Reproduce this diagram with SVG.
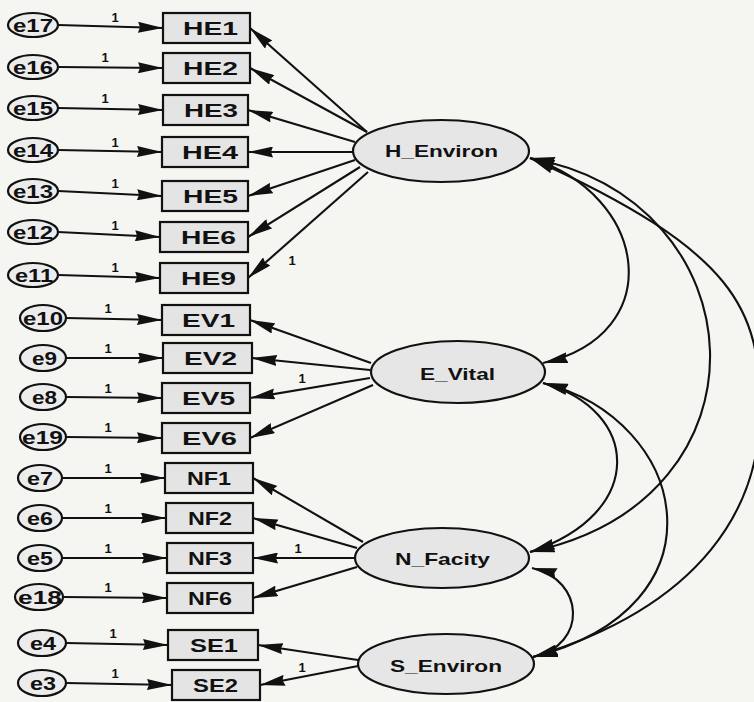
<svg xmlns="http://www.w3.org/2000/svg" width="754" height="702" viewBox="0 0 754 702">
<defs>
<marker id="arr" viewBox="0 0 25 11" refX="25" refY="5.5" markerWidth="25" markerHeight="11" markerUnits="userSpaceOnUse" orient="auto-start-reverse">
<path d="M0,0 L25,5.5 L0,11 L2,5.5 Z" fill="#111"/>
</marker>
<style>
.bg{fill:#f5f5f2}
.obs rect{fill:#e4e4e4;stroke:#111;stroke-width:2.2}
.lat ellipse{fill:#e6e6e6;stroke:#111;stroke-width:2.2}
.err ellipse{fill:#ececec;stroke:#111;stroke-width:2.2}
text{font-family:"Liberation Sans",Arial,sans-serif;font-weight:bold;fill:#111}
.o{font-size:18px}
.e{font-size:19px}
.l{font-size:17px}
.one{font-size:13px;text-anchor:middle}
.c line,.c path{stroke:#111;stroke-width:2.1;fill:none}
.c .a{marker-end:url(#arr)}
.c .d{marker-start:url(#arr);marker-end:url(#arr)}
</style>
</defs>
<rect class="bg" x="0" y="0" width="754" height="702"/>

<g id="connectors" class="c">
<!-- error arrows -->
<line class="a" x1="58" y1="25" x2="163" y2="28"/>
<line class="a" x1="58" y1="67" x2="163" y2="68"/>
<line class="a" x1="58" y1="108" x2="163" y2="110"/>
<line class="a" x1="58" y1="150" x2="162" y2="152"/>
<line class="a" x1="58" y1="191" x2="162" y2="196"/>
<line class="a" x1="58" y1="232" x2="160" y2="237"/>
<line class="a" x1="58" y1="275" x2="160" y2="278"/>
<line class="a" x1="66" y1="318" x2="162" y2="320"/>
<line class="a" x1="66" y1="358" x2="163" y2="358"/>
<line class="a" x1="66" y1="397" x2="162" y2="398"/>
<line class="a" x1="66" y1="437" x2="162" y2="438"/>
<line class="a" x1="62" y1="478" x2="165" y2="478"/>
<line class="a" x1="62" y1="518" x2="166" y2="518"/>
<line class="a" x1="62" y1="558" x2="167" y2="558"/>
<line class="a" x1="63" y1="597" x2="167" y2="598"/>
<line class="a" x1="66" y1="643" x2="168" y2="645"/>
<line class="a" x1="66" y1="683" x2="172" y2="685"/>
<!-- loadings -->
<line class="a" x1="367" y1="132" x2="250" y2="28"/>
<line class="a" x1="367" y1="132" x2="250" y2="68"/>
<line class="a" x1="355" y1="142" x2="248" y2="110"/>
<line class="a" x1="353" y1="152" x2="248" y2="152"/>
<line class="a" x1="355" y1="160" x2="248" y2="196"/>
<line class="a" x1="360" y1="167" x2="248" y2="237"/>
<line class="a" x1="368" y1="172" x2="248" y2="278"/>
<line class="a" x1="371" y1="363" x2="250" y2="320"/>
<line class="a" x1="370" y1="370" x2="252" y2="358"/>
<line class="a" x1="370" y1="378" x2="250" y2="398"/>
<line class="a" x1="373" y1="385" x2="250" y2="438"/>
<line class="a" x1="363" y1="542" x2="253" y2="478"/>
<line class="a" x1="357" y1="548" x2="253" y2="518"/>
<line class="a" x1="355" y1="558" x2="253" y2="558"/>
<line class="a" x1="357" y1="567" x2="253" y2="598"/>
<line class="a" x1="358" y1="660" x2="258" y2="645"/>
<line class="a" x1="358" y1="666" x2="260" y2="685"/>
<!-- covariances -->
<path class="d" d="M530,158 C650,195 668,335 543,363"/>
<path class="d" d="M530,158 C760,200 780,500 530,552"/>
<path class="d" d="M530,158 C738,252 760,310 760,410 C760,505 705,605 533,657"/>
<path class="d" d="M543,383 C640,410 648,513 530,552"/>
<path class="d" d="M543,383 C690,420 730,607 533,657"/>
<path class="d" d="M532,568 C585,580 588,645 533,657"/>
<!-- weight labels -->
<text class="one" x="115" y="22">1</text>
<text class="one" x="105" y="62">1</text>
<text class="one" x="105" y="103">1</text>
<text class="one" x="115" y="147">1</text>
<text class="one" x="115" y="188">1</text>
<text class="one" x="115" y="230">1</text>
<text class="one" x="115" y="272">1</text>
<text class="one" x="108" y="313">1</text>
<text class="one" x="108" y="353">1</text>
<text class="one" x="108" y="393">1</text>
<text class="one" x="108" y="432">1</text>
<text class="one" x="108" y="473">1</text>
<text class="one" x="108" y="513">1</text>
<text class="one" x="108" y="553">1</text>
<text class="one" x="108" y="592">1</text>
<text class="one" x="113" y="638">1</text>
<text class="one" x="115" y="678">1</text>
<text class="one" x="292" y="265">1</text>
<text class="one" x="302" y="383">1</text>
<text class="one" x="298" y="553">1</text>
<text class="one" x="302" y="672">1</text>
</g>

<g id="e17" class="err"><ellipse cx="33" cy="25" rx="25" ry="12"/><text class="e" x="13" y="32" textLength="40" lengthAdjust="spacingAndGlyphs">e17</text></g>
<g id="e16" class="err"><ellipse cx="33" cy="67" rx="25" ry="12"/><text class="e" x="13" y="74" textLength="40" lengthAdjust="spacingAndGlyphs">e16</text></g>
<g id="e15" class="err"><ellipse cx="33" cy="108" rx="25" ry="12"/><text class="e" x="13" y="115" textLength="40" lengthAdjust="spacingAndGlyphs">e15</text></g>
<g id="e14" class="err"><ellipse cx="33" cy="150" rx="25" ry="12"/><text class="e" x="13" y="157" textLength="40" lengthAdjust="spacingAndGlyphs">e14</text></g>
<g id="e13" class="err"><ellipse cx="33" cy="191" rx="25" ry="12"/><text class="e" x="13" y="198" textLength="40" lengthAdjust="spacingAndGlyphs">e13</text></g>
<g id="e12" class="err"><ellipse cx="33" cy="232" rx="25" ry="12"/><text class="e" x="13" y="239" textLength="40" lengthAdjust="spacingAndGlyphs">e12</text></g>
<g id="e11" class="err"><ellipse cx="33" cy="275" rx="25" ry="12"/><text class="e" x="15" y="282" textLength="38" lengthAdjust="spacingAndGlyphs">e11</text></g>
<g id="e10" class="err"><ellipse cx="43" cy="318" rx="23" ry="13"/><text class="e" x="23" y="325" textLength="40" lengthAdjust="spacingAndGlyphs">e10</text></g>
<g id="e9" class="err"><ellipse cx="43" cy="358" rx="23" ry="13"/><text class="e" x="32" y="365" textLength="25" lengthAdjust="spacingAndGlyphs">e9</text></g>
<g id="e8" class="err"><ellipse cx="43" cy="397" rx="23" ry="13"/><text class="e" x="32" y="404" textLength="25" lengthAdjust="spacingAndGlyphs">e8</text></g>
<g id="e19" class="err"><ellipse cx="43" cy="437" rx="23" ry="13"/><text class="e" x="22" y="444" textLength="41" lengthAdjust="spacingAndGlyphs">e19</text></g>
<g id="e7" class="err"><ellipse cx="40" cy="478" rx="22" ry="13"/><text class="e" x="27" y="485" textLength="26" lengthAdjust="spacingAndGlyphs">e7</text></g>
<g id="e6" class="err"><ellipse cx="40" cy="518" rx="22" ry="13"/><text class="e" x="27" y="525" textLength="26" lengthAdjust="spacingAndGlyphs">e6</text></g>
<g id="e5" class="err"><ellipse cx="40" cy="558" rx="22" ry="13"/><text class="e" x="27" y="565" textLength="26" lengthAdjust="spacingAndGlyphs">e5</text></g>
<g id="e18" class="err"><ellipse cx="39" cy="597" rx="24" ry="13"/><text class="e" x="18" y="604" textLength="44" lengthAdjust="spacingAndGlyphs">e18</text></g>
<g id="e4" class="err"><ellipse cx="42" cy="643" rx="24" ry="13"/><text class="e" x="30" y="650" textLength="26" lengthAdjust="spacingAndGlyphs">e4</text></g>
<g id="e3" class="err"><ellipse cx="42" cy="683" rx="24" ry="13"/><text class="e" x="30" y="690" textLength="26" lengthAdjust="spacingAndGlyphs">e3</text></g>

<g id="HE1" class="obs"><rect x="163" y="13" width="87" height="30"/><text class="o" x="183" y="35" textLength="55" lengthAdjust="spacingAndGlyphs">HE1</text></g>
<g id="HE2" class="obs"><rect x="163" y="53" width="87" height="30"/><text class="o" x="183" y="75" textLength="55" lengthAdjust="spacingAndGlyphs">HE2</text></g>
<g id="HE3" class="obs"><rect x="163" y="95" width="85" height="30"/><text class="o" x="184" y="117" textLength="54" lengthAdjust="spacingAndGlyphs">HE3</text></g>
<g id="HE4" class="obs"><rect x="162" y="137" width="86" height="30"/><text class="o" x="182" y="159" textLength="56" lengthAdjust="spacingAndGlyphs">HE4</text></g>
<g id="HE5" class="obs"><rect x="162" y="181" width="86" height="30"/><text class="o" x="183" y="203" textLength="55" lengthAdjust="spacingAndGlyphs">HE5</text></g>
<g id="HE6" class="obs"><rect x="160" y="222" width="88" height="30"/><text class="o" x="181" y="244" textLength="55" lengthAdjust="spacingAndGlyphs">HE6</text></g>
<g id="HE9" class="obs"><rect x="160" y="263" width="88" height="30"/><text class="o" x="181" y="285" textLength="55" lengthAdjust="spacingAndGlyphs">HE9</text></g>
<g id="EV1" class="obs"><rect x="162" y="305" width="88" height="30"/><text class="o" x="182" y="327" textLength="53" lengthAdjust="spacingAndGlyphs">EV1</text></g>
<g id="EV2" class="obs"><rect x="163" y="343" width="89" height="30"/><text class="o" x="184" y="365" textLength="53" lengthAdjust="spacingAndGlyphs">EV2</text></g>
<g id="EV5" class="obs"><rect x="162" y="383" width="88" height="30"/><text class="o" x="182" y="405" textLength="53" lengthAdjust="spacingAndGlyphs">EV5</text></g>
<g id="EV6" class="obs"><rect x="162" y="423" width="88" height="30"/><text class="o" x="182" y="445" textLength="55" lengthAdjust="spacingAndGlyphs">EV6</text></g>
<g id="NF1" class="obs"><rect x="165" y="463" width="88" height="30"/><text class="o" x="187" y="485" textLength="44" lengthAdjust="spacingAndGlyphs">NF1</text></g>
<g id="NF2" class="obs"><rect x="166" y="503" width="87" height="30"/><text class="o" x="188" y="525" textLength="44" lengthAdjust="spacingAndGlyphs">NF2</text></g>
<g id="NF3" class="obs"><rect x="167" y="543" width="86" height="30"/><text class="o" x="188" y="565" textLength="44" lengthAdjust="spacingAndGlyphs">NF3</text></g>
<g id="NF6" class="obs"><rect x="167" y="583" width="86" height="30"/><text class="o" x="188" y="605" textLength="44" lengthAdjust="spacingAndGlyphs">NF6</text></g>
<g id="SE1" class="obs"><rect x="168" y="630" width="90" height="30"/><text class="o" x="190" y="652" textLength="48" lengthAdjust="spacingAndGlyphs">SE1</text></g>
<g id="SE2" class="obs"><rect x="172" y="670" width="88" height="30"/><text class="o" x="193" y="692" textLength="45" lengthAdjust="spacingAndGlyphs">SE2</text></g>

<g id="H_Environ" class="lat"><ellipse cx="441" cy="151" rx="88" ry="31"/><text class="l" x="385" y="157" textLength="113" lengthAdjust="spacingAndGlyphs">H_Environ</text></g>
<g id="E_Vital" class="lat"><ellipse cx="458" cy="372" rx="87" ry="31"/><text class="l" x="420" y="380" textLength="75" lengthAdjust="spacingAndGlyphs">E_Vital</text></g>
<g id="N_Facity" class="lat"><ellipse cx="442" cy="558" rx="87" ry="30"/><text class="l" x="395" y="565" textLength="95" lengthAdjust="spacingAndGlyphs">N_Facity</text></g>
<g id="S_Environ" class="lat"><ellipse cx="446" cy="664" rx="88" ry="30"/><text class="l" x="390" y="672" textLength="112" lengthAdjust="spacingAndGlyphs">S_Environ</text></g>
</svg>
